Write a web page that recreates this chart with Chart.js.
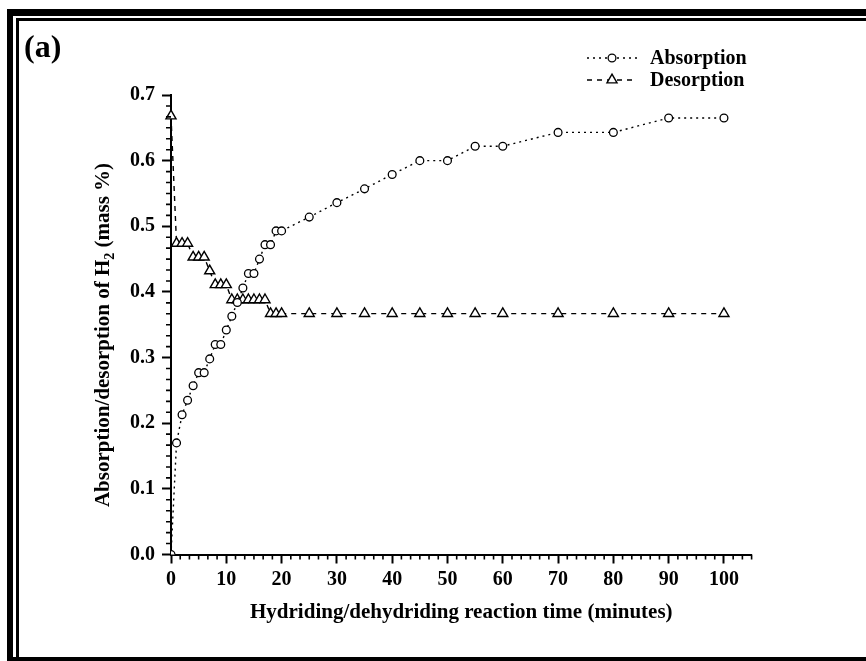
<!DOCTYPE html>
<html>
<head>
<meta charset="utf-8">
<script src="https://cdn.jsdelivr.net/npm/chart.js@4.4.0/dist/chart.umd.min.js"></script>
<style>
  html, body { margin: 0; padding: 0; background: #ffffff; }
  #wrap { width: 866px; height: 661px; position: relative; }
  canvas { display: block; }
</style>
</head>
<body>
<div id="wrap"><canvas id="c" width="866" height="661"></canvas></div>
<script>
// Reaction time (minutes) at which each uptake / release reading was taken
const times = [0, 1, 2, 3, 4, 5, 6, 7, 8, 9, 10, 11, 12, 13, 14, 15, 16, 17, 18, 19, 20,
               25, 30, 35, 40, 45, 50, 55, 60, 70, 80, 90, 100];

// Hydrogen absorbed (mass %)
const absorption = [0.000, 0.170, 0.213, 0.235, 0.257, 0.277, 0.277, 0.298, 0.320, 0.320, 0.342,
                    0.363, 0.384, 0.406, 0.428, 0.428, 0.450, 0.472, 0.472, 0.493, 0.493,
                    0.514, 0.536, 0.557, 0.579, 0.600, 0.600, 0.622, 0.622, 0.643, 0.643, 0.665, 0.665];

// Hydrogen still held during desorption (mass %)
const desorption = [0.668, 0.474, 0.474, 0.474, 0.453, 0.453, 0.453, 0.432, 0.411, 0.411, 0.411,
                    0.388, 0.388, 0.388, 0.388, 0.388, 0.388, 0.388, 0.367, 0.367, 0.367,
                    0.367, 0.367, 0.367, 0.367, 0.367, 0.367, 0.367, 0.367, 0.367, 0.367, 0.367, 0.367];

const seriesNames = ['Absorption', 'Desorption'];

const xTickValues = [0, 10, 20, 30, 40, 50, 60, 70, 80, 90, 100];
const xTickLabels = ['0', '10', '20', '30', '40', '50', '60', '70', '80', '90', '100'];
const yTickValues = [0, 0.1, 0.2, 0.3, 0.4, 0.5, 0.6, 0.7];
const yTickLabels = ['0.0', '0.1', '0.2', '0.3', '0.4', '0.5', '0.6', '0.7'];

const panelLabel = '(a)';
const xTitle = 'Hydriding/dehydriding reaction time (minutes)';
const yTitleParts = ['Absorption/desorption of H', '2', ' (mass %)'];

const SERIF = '"Liberation Serif", "Times New Roman", Times, serif';
const INK = '#000000';

const toPoints = (xs, ys) => xs.map((x, i) => ({ x: x, y: ys[i] }));

// Page frame, panel letter, y title, minor ticks and the legend
const decorations = {
  id: 'decorations',
  beforeDraw(chart) {
    const ctx = chart.ctx;
    const W = chart.width, H = chart.height;
    ctx.save();
    ctx.fillStyle = '#ffffff';
    ctx.fillRect(0, 0, W, H);
    ctx.fillStyle = INK;
    // outer heavy rule (top + left)
    ctx.fillRect(7, 9, W - 7, 7);
    ctx.fillRect(7, 9, 6, H - 9);
    // inner thin rule (top + left)
    ctx.fillRect(16, 18, W - 16, 3);
    ctx.fillRect(16, 18, 3, H - 18);
    // bottom rule
    ctx.fillRect(7, H - 4, W - 7, 4);
    ctx.restore();
  },
  afterDraw(chart) {
    const ctx = chart.ctx;
    const xs = chart.scales.x, ys = chart.scales.y;
    ctx.save();
    ctx.fillStyle = INK;
    ctx.strokeStyle = INK;

    // panel letter
    ctx.font = 'bold 32px ' + SERIF;
    ctx.textAlign = 'left';
    ctx.textBaseline = 'alphabetic';
    ctx.fillText(panelLabel, 24, 57);

    // y title with a real subscript
    ctx.save();
    ctx.translate(104, 335);
    ctx.rotate(-Math.PI / 2);
    const big = 'bold 21px ' + SERIF, small = 'bold 14px ' + SERIF;
    ctx.font = big; const w0 = ctx.measureText(yTitleParts[0]).width;
    ctx.font = small; const w1 = ctx.measureText(yTitleParts[1]).width;
    ctx.font = big; const w2 = ctx.measureText(yTitleParts[2]).width;
    let px = -(w0 + w1 + w2) / 2;
    ctx.textBaseline = 'middle';
    ctx.font = big; ctx.fillText(yTitleParts[0], px, 0); px += w0;
    ctx.font = small; ctx.fillText(yTitleParts[1], px, 6); px += w1;
    ctx.font = big; ctx.fillText(yTitleParts[2], px, 0);
    ctx.restore();

    // minor ticks: five between every pair of labelled ticks
    ctx.lineWidth = 1.6;
    ctx.beginPath();
    const xStep = (xTickValues[1] - xTickValues[0]) / 6;
    for (let i = 1; i * xStep <= xs.max + 1e-9; i++) {
      if (i % 6 === 0) continue;
      const p = xs.getPixelForValue(i * xStep);
      ctx.moveTo(p, xs.top);
      ctx.lineTo(p, xs.top + 5);
    }
    const yStep = (yTickValues[1] - yTickValues[0]) / 6;
    for (let i = 1; i * yStep <= ys.max + 1e-9; i++) {
      if (i % 6 === 0) continue;
      const p = ys.getPixelForValue(i * yStep);
      ctx.moveTo(ys.right, p);
      ctx.lineTo(ys.right - 5, p);
    }
    ctx.stroke();

    // legend: line sample with its marker, then the series name
    const rows = [58, 80];
    chart.data.datasets.forEach((ds, i) => {
      const y = rows[i];
      ctx.save();
      ctx.strokeStyle = INK;
      ctx.lineWidth = ds.borderWidth;
      ctx.setLineDash(ds.borderDash);
      ctx.beginPath();
      ctx.moveTo(587, y);
      ctx.lineTo(637, y);
      ctx.stroke();
      ctx.setLineDash([]);
      ctx.fillStyle = '#ffffff';
      ctx.strokeStyle = INK;
      ctx.lineWidth = ds.pointBorderWidth;
      Chart.helpers.drawPoint(ctx, {
        pointStyle: ds.pointStyle,
        radius: ds.pointRadius,
        rotation: 0,
        borderWidth: ds.pointBorderWidth
      }, 612, y);
      ctx.restore();
      ctx.font = 'bold 20px ' + SERIF;
      ctx.textAlign = 'left';
      ctx.textBaseline = 'middle';
      ctx.fillStyle = INK;
      ctx.fillText(ds.label, 650, y + 1);
    });
    ctx.restore();
  }
};

const ctx = document.getElementById('c').getContext('2d');
new Chart(ctx, {
  type: 'line',
  data: {
    datasets: [
      {
        label: seriesNames[0],
        data: toPoints(times, absorption),
        borderColor: INK,
        borderWidth: 1.4,
        borderDash: [2, 4],
        pointStyle: 'circle',
        pointRadius: 3.9,
        pointBorderWidth: 1.3,
        pointBackgroundColor: '#ffffff',
        pointBorderColor: INK,
        fill: false,
        tension: 0
      },
      {
        label: seriesNames[1],
        data: toPoints(times, desorption),
        borderColor: INK,
        borderWidth: 1.4,
        borderDash: [5, 5],
        pointStyle: 'triangle',
        pointRadius: 5.8,
        pointBorderWidth: 1.4,
        pointBackgroundColor: '#ffffff',
        pointBorderColor: INK,
        fill: false,
        tension: 0,
        clip: false
      }
    ]
  },
  options: {
    responsive: false,
    animation: false,
    devicePixelRatio: 1,
    layout: { padding: { top: 95, right: 114.4, bottom: 0, left: 0 } },
    plugins: {
      legend: { display: false },
      tooltip: { enabled: false },
      title: { display: false }
    },
    scales: {
      x: {
        type: 'linear',
        position: 'bottom',
        min: 0,
        max: 105,
        afterBuildTicks: (s) => { s.ticks = xTickValues.map(v => ({ value: v })); },
        afterFit: (s) => { s.height = 106.5; },
        ticks: {
          autoSkip: false,
          maxRotation: 0,
          padding: 4.5,
          color: INK,
          font: { family: SERIF, size: 20, weight: 'bold' },
          callback: (v, i) => xTickLabels[i]
        },
        grid: { drawOnChartArea: false, drawTicks: true, tickLength: 9, tickWidth: 2, tickColor: INK },
        border: { display: true, color: INK, width: 2 },
        title: {
          display: true,
          text: xTitle,
          color: INK,
          font: { family: SERIF, size: 21, weight: 'bold' },
          padding: { top: 0, bottom: 36 }
        }
      },
      y: {
        type: 'linear',
        position: 'left',
        min: 0,
        max: 0.7,
        afterBuildTicks: (s) => { s.ticks = yTickValues.map(v => ({ value: v })); },
        afterFit: (s) => { s.width = 171; },
        ticks: {
          autoSkip: false,
          padding: 7,
          color: INK,
          font: { family: SERIF, size: 20, weight: 'bold' },
          callback: (v, i) => yTickLabels[i]
        },
        grid: { drawOnChartArea: false, drawTicks: true, tickLength: 9, tickWidth: 2, tickColor: INK },
        border: { display: true, color: INK, width: 2 }
      }
    }
  },
  plugins: [decorations]
});
</script>
</body>
</html>
